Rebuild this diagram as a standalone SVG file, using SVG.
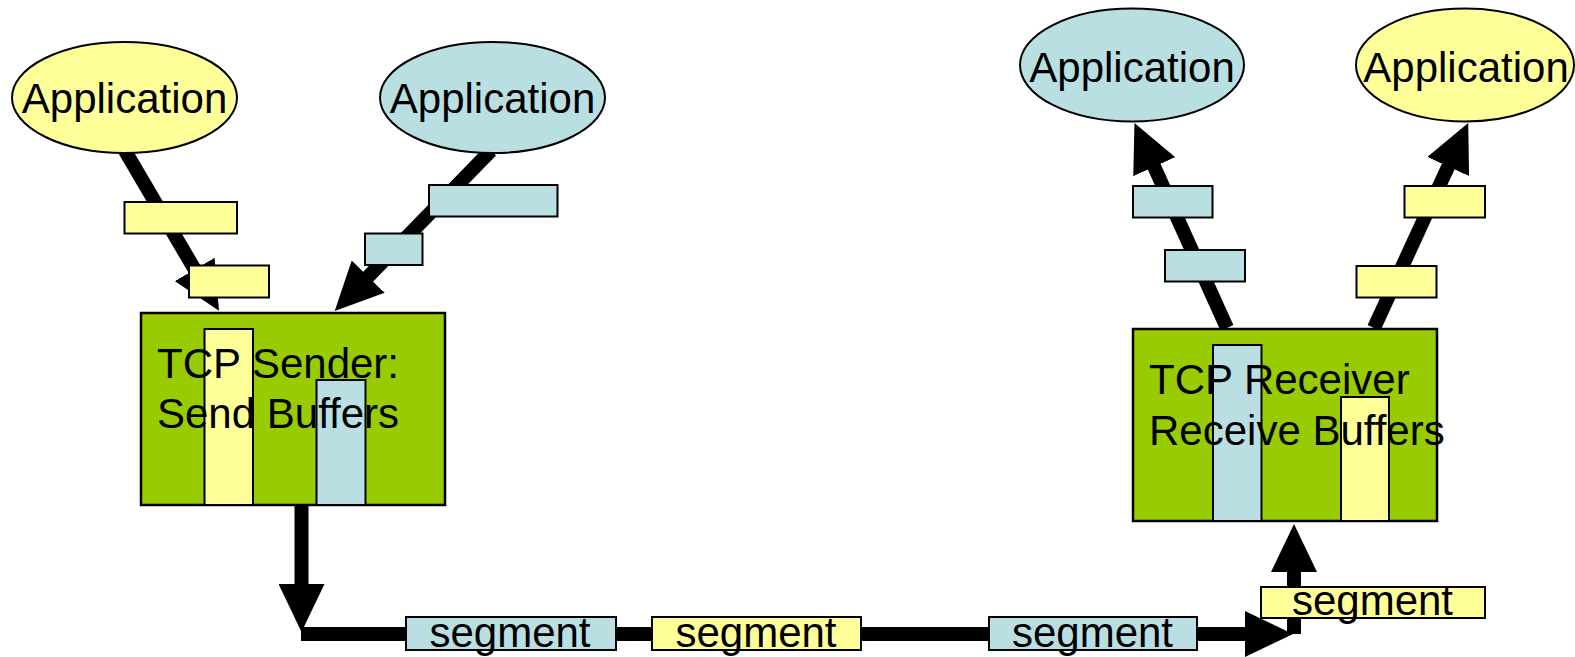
<svg xmlns="http://www.w3.org/2000/svg" width="1575" height="657" viewBox="0 0 1575 657">
  <style>
    .lbl { font-family: "Liberation Sans", Arial, sans-serif; font-size: 42px; fill: #000; }
    .mid { text-anchor: middle; }
    .yel { fill: #FFFF99; stroke: #000; stroke-width: 2; }
    .blu { fill: #B9DFE3; stroke: #000; stroke-width: 2; }
    .box { fill: #99CC00; stroke: #000; stroke-width: 2.5; }
    .wire { fill: none; stroke: #000; stroke-width: 14; stroke-linecap: butt; }
  </style>
  <defs>
    <marker id="head" markerUnits="userSpaceOnUse" viewBox="0 0 48 46" refX="1" refY="23" markerWidth="48" markerHeight="46" orient="auto">
      <path d="M0,0 L48,23 L0,46 Z" fill="#000"/>
    </marker>
  </defs>

  <!-- connectors -->
  <g id="connectors">
    <line class="wire" x1="124" y1="149" x2="195.2" y2="270.3" marker-end="url(#head)"/>
    <line class="wire" x1="491" y1="150.5" x2="367.5" y2="277.3" marker-end="url(#head)"/>
    <line class="wire" x1="1227" y1="328" x2="1153.8" y2="165.8" marker-end="url(#head)"/>
    <line class="wire" x1="1374" y1="328" x2="1448.6" y2="165.6" marker-end="url(#head)"/>
    <line class="wire" x1="301.5" y1="505" x2="301.5" y2="585" marker-end="url(#head)"/>
    <line class="wire" x1="301" y1="634" x2="1246" y2="634" stroke-width="15" marker-end="url(#head)"/>
    <line class="wire" x1="1294" y1="634" x2="1294" y2="571" marker-end="url(#head)"/>
  </g>

  <!-- applications -->
  <g id="app-send-yellow">
    <ellipse class="yel" cx="124.5" cy="97.5" rx="112.5" ry="55.5"/>
    <text class="lbl mid" x="124.5" y="113">Application</text>
  </g>
  <g id="app-send-blue">
    <ellipse class="blu" cx="492.5" cy="97.5" rx="112.5" ry="55.5"/>
    <text class="lbl mid" x="492.5" y="113">Application</text>
  </g>
  <g id="app-recv-blue">
    <ellipse class="blu" cx="1132" cy="65" rx="112" ry="56.5"/>
    <text class="lbl mid" x="1132" y="82">Application</text>
  </g>
  <g id="app-recv-yellow">
    <ellipse class="yel" cx="1465" cy="65" rx="109" ry="56.5"/>
    <text class="lbl mid" x="1466" y="82">Application</text>
  </g>

  <!-- data chunks travelling on the arrows -->
  <g id="chunks">
    <rect class="yel" x="124.5" y="202" width="112.5" height="31.5"/>
    <rect class="yel" x="189" y="265.5" width="80" height="32"/>
    <rect class="blu" x="429" y="185" width="128.5" height="31.5"/>
    <rect class="blu" x="365" y="233.5" width="57.5" height="31.5"/>
    <rect class="blu" x="1133" y="186" width="79.5" height="31.5"/>
    <rect class="blu" x="1165" y="250" width="80" height="31.5"/>
    <rect class="yel" x="1404.5" y="186" width="80.5" height="31.5"/>
    <rect class="yel" x="1356.5" y="266" width="80" height="31.5"/>
  </g>

  <!-- TCP sender -->
  <g id="tcp-sender">
    <rect class="box" x="141" y="313" width="304" height="192"/>
    <rect class="yel" x="204.5" y="329" width="48.5" height="176"/>
    <rect class="blu" x="316.5" y="380" width="49" height="125"/>
    <text class="lbl" x="157" y="378">TCP Sender:</text>
    <text class="lbl" x="157" y="428">Send Buffers</text>
  </g>

  <!-- TCP receiver -->
  <g id="tcp-receiver">
    <rect class="box" x="1133" y="329" width="304" height="192"/>
    <rect class="blu" x="1213" y="345" width="48.5" height="176"/>
    <rect class="yel" x="1341" y="397" width="48" height="124"/>
    <text class="lbl" x="1149" y="394">TCP Receiver</text>
    <text class="lbl" x="1149" y="445">Receive Buffers</text>
  </g>

  <!-- segments on the wire -->
  <g id="segment-1">
    <rect class="blu" x="406" y="617" width="210" height="33"/>
    <text class="lbl mid" x="510" y="647">segment</text>
  </g>
  <g id="segment-2">
    <rect class="yel" x="652" y="617" width="209" height="33"/>
    <text class="lbl mid" x="756" y="647">segment</text>
  </g>
  <g id="segment-3">
    <rect class="blu" x="989" y="617" width="208" height="33"/>
    <text class="lbl mid" x="1092.5" y="647">segment</text>
  </g>
  <g id="segment-4">
    <rect class="yel" x="1261" y="587" width="224" height="31"/>
    <text class="lbl mid" x="1372.5" y="615">segment</text>
  </g>
</svg>
